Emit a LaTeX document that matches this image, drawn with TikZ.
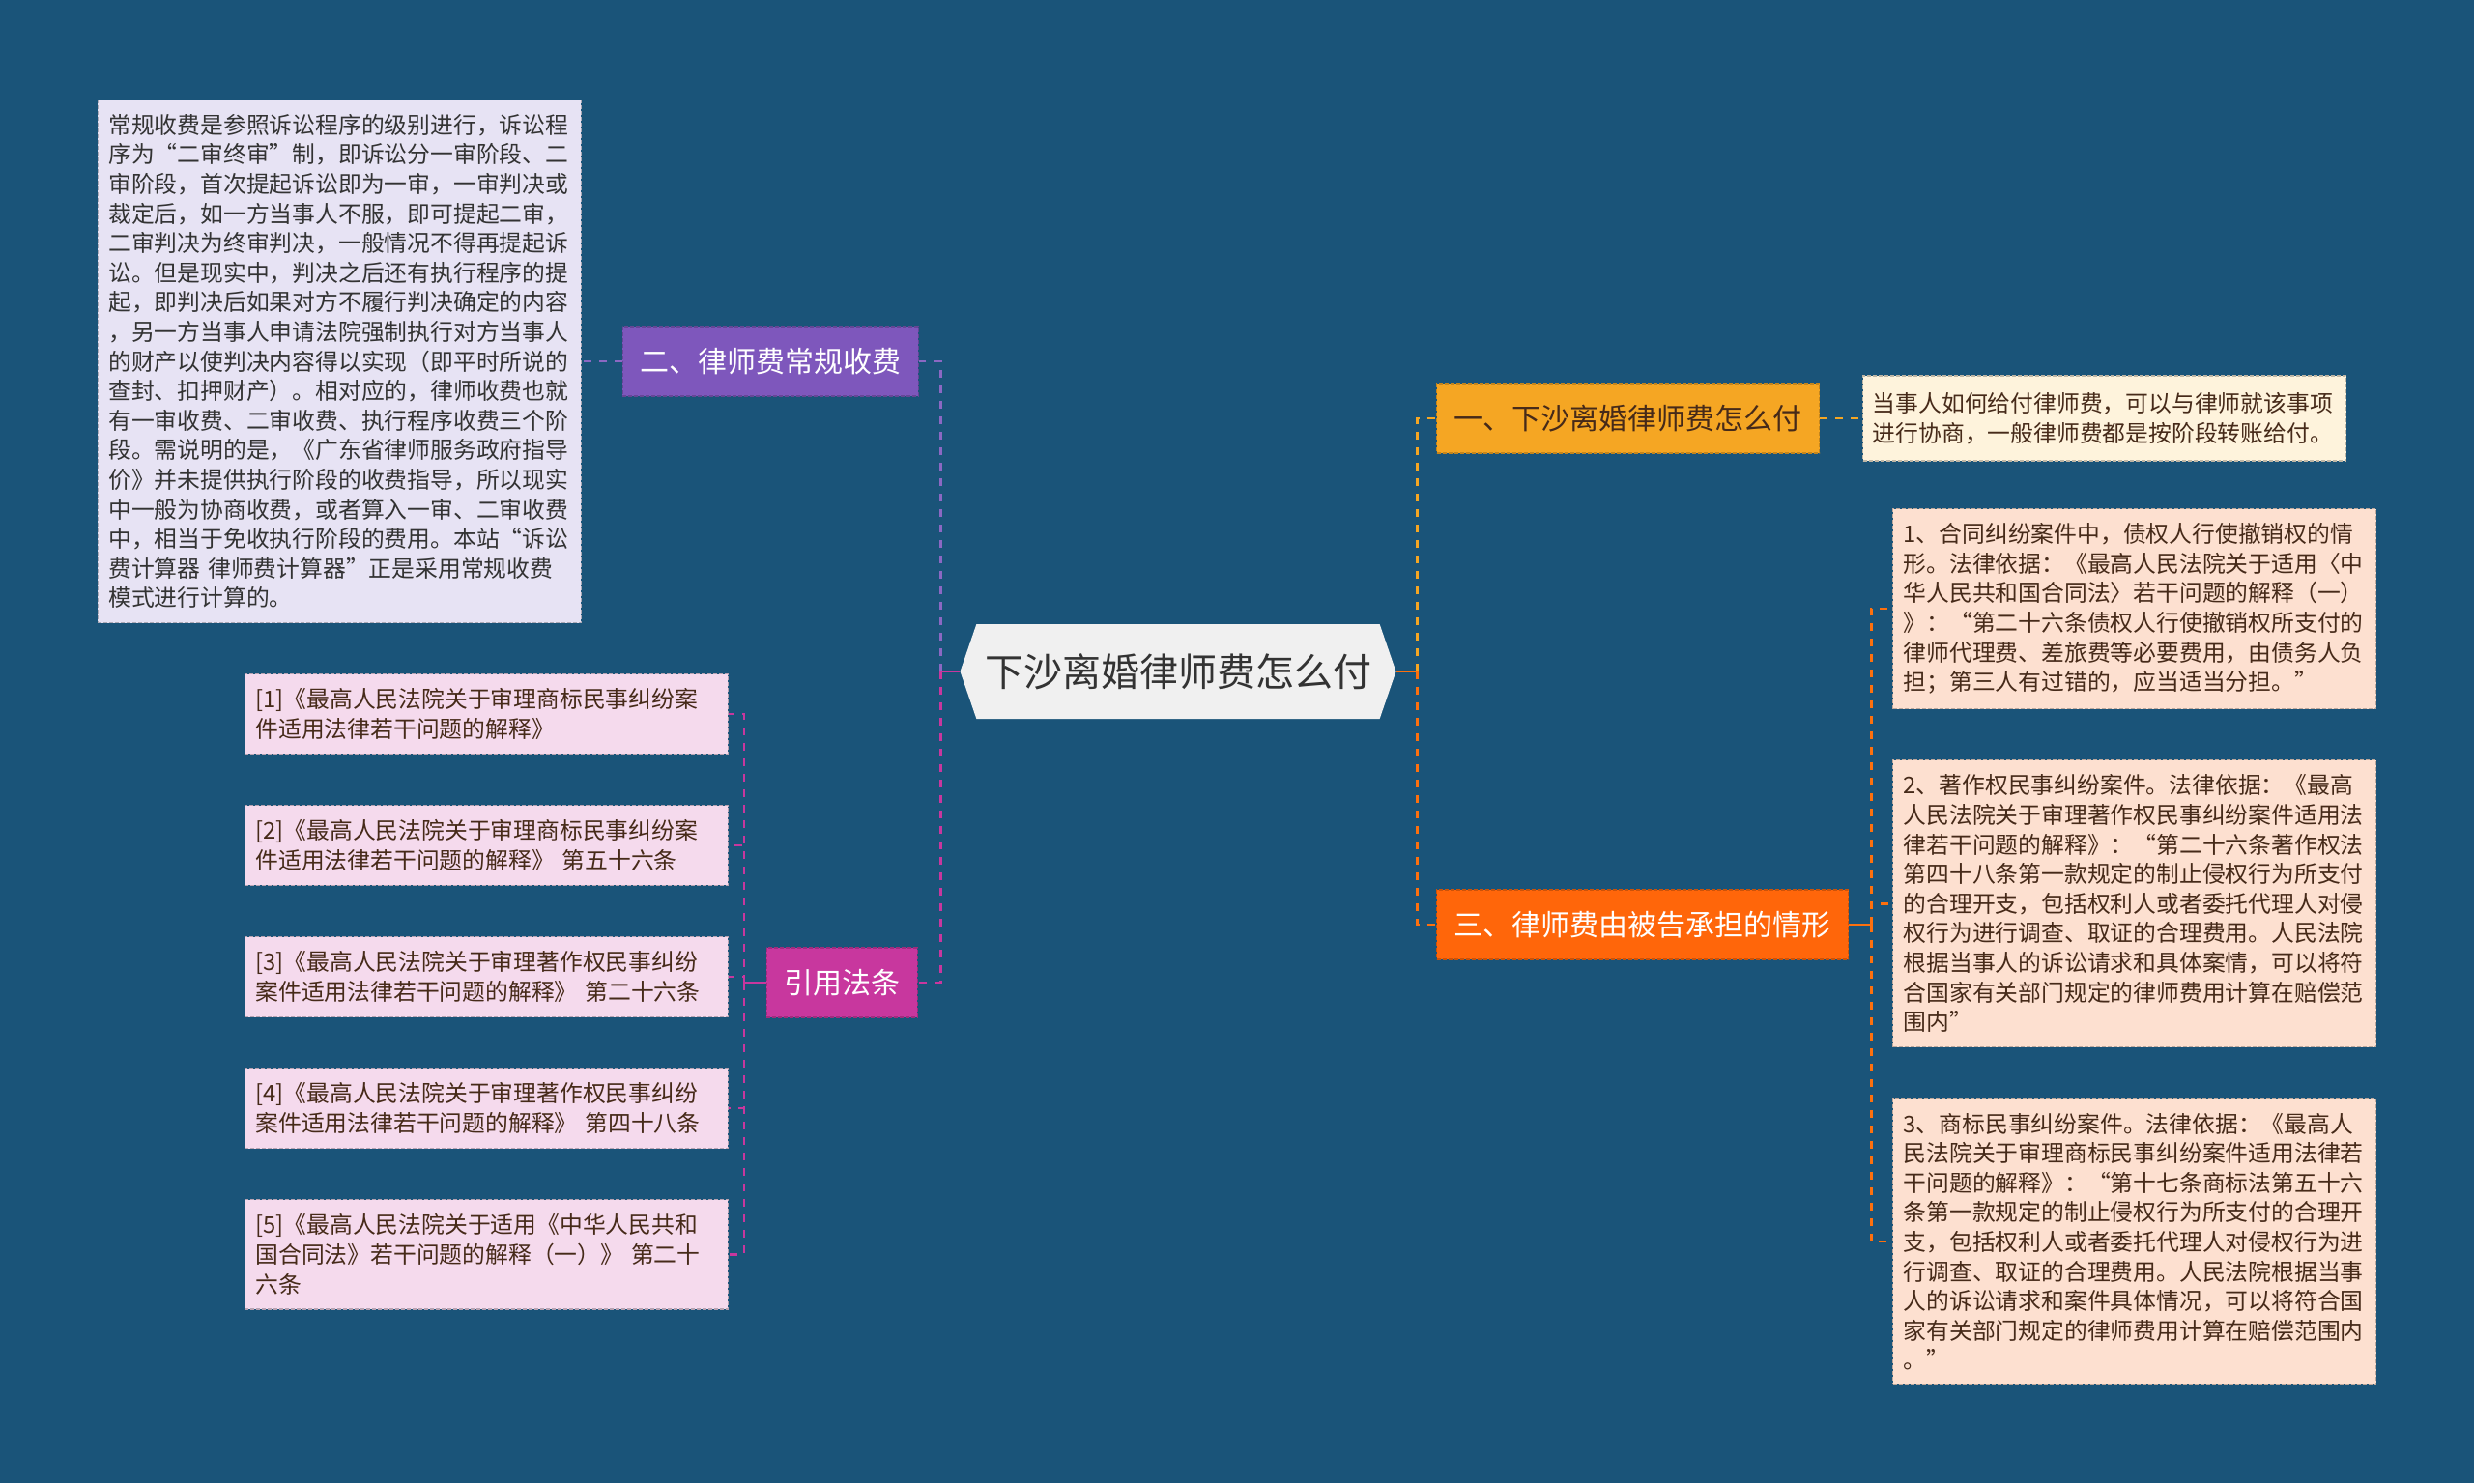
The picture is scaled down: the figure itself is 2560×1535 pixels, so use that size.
\documentclass[tikz,border=0pt]{standalone}
\usepackage{fontspec}
\setmainfont{Noto Sans CJK SC}
\usetikzlibrary{%
	calc,%
	positioning,%
	shapes.symbols,%
}
\definecolor{cbg}{RGB}{26, 84, 121}
\definecolor{crootlight}{RGB}{240, 240, 240}
\definecolor{cpurple}{RGB}{126, 87, 188}
\definecolor{cpurplelight}{RGB}{231, 227, 244}
\definecolor{cmagenta}{RGB}{200, 55, 158}
\definecolor{cpinklight}{RGB}{245, 218, 237}
\definecolor{corange}{RGB}{245, 166, 35}
\definecolor{ccreamlight}{RGB}{254, 243, 220}
\definecolor{cred}{RGB}{255, 102, 10}
\definecolor{cpeachlight}{RGB}{253, 224, 208}
\definecolor{cdarktext}{RGB}{51, 51, 51}
\definecolor{cbrowntext}{RGB}{70, 42, 25}
\tikzset{
	nodes={align=center},%
	rootnode/.style={%
			signal,%
			signal to=west and east,%
			signal pointer angle=142,%
			fill=crootlight,%
			text=cdarktext,%
			minimum width=451pt,%
			minimum height=98pt,%
			font=\fontsize{40}{48}\selectfont},%
	branchnode/.style={%
			draw=#1!80!black,%
			fill=#1,%
			rectangle,%
			line width=1.2pt,%
			dash pattern=on 4pt off 2pt,%
			minimum height=72pt,%
			inner xsep=18pt,%
			font=\fontsize{30}{36}\selectfont},%
	leafnode/.style={%
			draw=#1!75!black,%
			fill=#1,%
			rectangle,%
			line width=1.2pt,%
			dash pattern=on 4pt off 2pt,%
			text width=478pt,%
			align=left,%
			inner xsep=11pt,%
			inner ysep=15pt,%
			font=\fontsize{23.8}{30.6}\selectfont},%
	link/.style={%
			line width=2.6pt,%
			dash pattern=on 8pt off 8pt},%
	stub/.style={%
			line width=2.6pt},%
}

\begin{document}
\begin{tikzpicture}[x=1pt, y=-1pt]%
	\fill[cbg] (0,0) rectangle (2560,1535);

	\node[rootnode] (root) at (1219,695) {下沙离婚律师费怎么付};

	% left side
	\node[branchnode=cpurple, text=white, anchor=east] (fee) at (951,374) {二、律师费常规收费};
	\node[leafnode=cpurplelight, text=cdarktext] (feetext) [left=42pt of fee] {常规收费是参照诉讼程序的级别进行，诉讼程\\
		序为“二审终审”制，即诉讼分一审阶段、二\\
		审阶段，首次提起诉讼即为一审，一审判决或\\
		裁定后，如一方当事人不服，即可提起二审，\\
		二审判决为终审判决，一般情况不得再提起诉\\
		讼。但是现实中，判决之后还有执行程序的提\\
		起，即判决后如果对方不履行判决确定的内容\\
		，另一方当事人申请法院强制执行对方当事人\\
		的财产以使判决内容得以实现（即平时所说的\\
		查封、扣押财产）。相对应的，律师收费也就\\
		有一审收费、二审收费、执行程序收费三个阶\\
		段。需说明的是，《广东省律师服务政府指导\\
		价》并未提供执行阶段的收费指导，所以现实\\
		中一般为协商收费，或者算入一审、二审收费\\
		中，相当于免收执行阶段的费用。本站“诉讼\\
		费计算器 律师费计算器”正是采用常规收费\\
		模式进行计算的。};

	\node[branchnode=cmagenta, text=white, anchor=east] (law) at (950,1017) {引用法条};
	\node[leafnode=cpinklight, text=cbrowntext, anchor=north east] (cite1) at (754,697) {[1]《最高人民法院关于审理商标民事纠纷案\\
		件适用法律若干问题的解释》};
	\node[leafnode=cpinklight, text=cbrowntext] (cite2) [below=52pt of cite1] {[2]《最高人民法院关于审理商标民事纠纷案\\
		件适用法律若干问题的解释》 第五十六条};
	\node[leafnode=cpinklight, text=cbrowntext] (cite3) [below=52pt of cite2] {[3]《最高人民法院关于审理著作权民事纠纷\\
		案件适用法律若干问题的解释》 第二十六条};
	\node[leafnode=cpinklight, text=cbrowntext] (cite4) [below=52pt of cite3] {[4]《最高人民法院关于审理著作权民事纠纷\\
		案件适用法律若干问题的解释》 第四十八条};
	\node[leafnode=cpinklight, text=cbrowntext] (cite5) [below=52pt of cite4] {[5]《最高人民法院关于适用《中华人民共和\\
		国合同法》若干问题的解释（一）》 第二十\\
		六条};

	% right side
	\node[branchnode=corange, text=cbrowntext, anchor=west] (pay) at (1486,433) {一、下沙离婚律师费怎么付};
	\node[leafnode=ccreamlight, text=cbrowntext, text width=480pt, inner xsep=10pt, minimum height=88pt] (paytext) [right=44pt of pay] {当事人如何给付律师费，可以与律师就该事项\\
		进行协商，一般律师费都是按阶段转账给付。};

	\node[branchnode=cred, text=white, anchor=west] (bear) at (1486,957) {三、律师费由被告承担的情形};
	\node[leafnode=cpeachlight, text=cbrowntext, anchor=north west] (case1) at (1958,526) {1、合同纠纷案件中，债权人行使撤销权的情\\
		形。法律依据：《最高人民法院关于适用〈中\\
		华人民共和国合同法〉若干问题的解释（一）\\
		》：“第二十六条债权人行使撤销权所支付的\\
		律师代理费、差旅费等必要费用，由债务人负\\
		担；第三人有过错的，应当适当分担。”};
	\node[leafnode=cpeachlight, text=cbrowntext] (case2) [below=52pt of case1] {2、著作权民事纠纷案件。法律依据：《最高\\
		人民法院关于审理著作权民事纠纷案件适用法\\
		律若干问题的解释》：“第二十六条著作权法\\
		第四十八条第一款规定的制止侵权行为所支付\\
		的合理开支，包括权利人或者委托代理人对侵\\
		权行为进行调查、取证的合理费用。人民法院\\
		根据当事人的诉讼请求和具体案情，可以将符\\
		合国家有关部门规定的律师费用计算在赔偿范\\
		围内”};
	\node[leafnode=cpeachlight, text=cbrowntext] (case3) [below=52pt of case2] {3、商标民事纠纷案件。法律依据：《最高人\\
		民法院关于审理商标民事纠纷案件适用法律若\\
		干问题的解释》：“第十七条商标法第五十六\\
		条第一款规定的制止侵权行为所支付的合理开\\
		支，包括权利人或者委托代理人对侵权行为进\\
		行调查、取证的合理费用。人民法院根据当事\\
		人的诉讼请求和案件具体情况，可以将符合国\\
		家有关部门规定的律师费用计算在赔偿范围内\\
		。”};

	% connectors
	\coordinate (lj) at ($(root.west)+(-20,0)$);
	\coordinate (cj) at ($(law.west)+(-23,0)$);
	\coordinate (rj) at ($(root.east)+(22,0)$);
	\coordinate (bj) at ($(bear.east)+(23,0)$);

	\draw[link, cpurple!90!white] (lj) |- (fee.east);
	\draw[link, cmagenta] (lj) |- (law.east);
	\draw[stub, cmagenta] (root.west) -- (lj);
	\draw[link, cpurple!90!white] (fee.west) -- (feetext.east);
	\draw[stub, cmagenta] (law.west) -- (cj);
	\foreach \i in {1,...,5}
	\draw[link, cmagenta] (cj) |- (cite\i.east);

	\draw[link, corange] (rj) |- (pay.west);
	\draw[link, cred!85!corange] (rj) |- (bear.west);
	\draw[stub, cred!85!corange] (root.east) -- (rj);
	\draw[link, corange] (pay.east) -- (paytext.west);
	\draw[stub, cred!85!corange] (bear.east) -- (bj);
	\foreach \i in {1,2,3}
	\draw[link, cred!85!corange] (bj) |- (case\i.west);
\end{tikzpicture}
\end{document}
